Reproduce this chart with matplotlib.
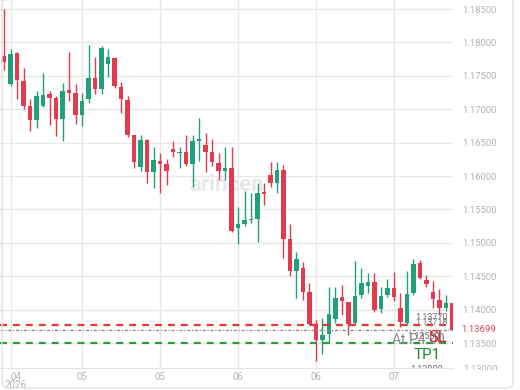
import numpy as np
import matplotlib
matplotlib.use('Agg')
import matplotlib.pyplot as plt
from matplotlib.patches import FancyBboxPatch
from matplotlib.transforms import Bbox

plt.rcParams['font.family'] = ['Roboto', 'DejaVu Sans']
plt.rcParams['lines.scale_dashes'] = False

# OHLC, una vela por fila de la imagen
opens = [1.17797, 1.17378, 1.17842, 1.17422, 1.17048, 1.16839, 1.17048, 1.17228, 1.17168, 1.16854,
         1.17288, 1.17243, 1.16913, 1.17153, 1.17467, 1.17303, 1.17677, 1.17767, 1.17333, 1.17138,
         1.16614, 1.16135, 1.16539, 1.16060, 1.16225, 1.16180, 1.16405, 1.16345, 1.16360, 1.16180,
         1.16524, 1.16464, 1.16360, 1.16195, 1.16075, 1.16120, 1.15222, 1.15282, 1.15342, 1.15357,
         1.15761, 1.16015, 1.15896, 1.16090, 1.15057, 1.14578, 1.14623, 1.14264, 1.13785, 1.13545,
         1.13635, 1.13860, 1.14189, 1.14114, 1.13800, 1.14219, 1.14354, 1.14414, 1.14009, 1.14219,
         1.14324, 1.14024, 1.13800, 1.14249, 1.14698, 1.14443, 1.14264, 1.14144, 1.14024, 1.14099]
highs = [1.18500, 1.17902, 1.17857, 1.17617, 1.17153, 1.17273, 1.17542, 1.17273, 1.17198, 1.17393,
         1.17857, 1.17378, 1.17243, 1.17961, 1.17782, 1.17946, 1.17902, 1.17782, 1.17408, 1.17198,
         1.16614, 1.16614, 1.16554, 1.16434, 1.16345, 1.16255, 1.16524, 1.16434, 1.16614, 1.16614,
         1.16869, 1.16644, 1.16554, 1.16345, 1.16434, 1.16434, 1.15536, 1.15776, 1.15746, 1.15896,
         1.15896, 1.16210, 1.16210, 1.16165, 1.15282, 1.14863, 1.14713, 1.14399, 1.13845, 1.13875,
         1.14339, 1.14339, 1.14369, 1.14114, 1.14728, 1.14623, 1.14548, 1.14548, 1.14339, 1.14458,
         1.14563, 1.14249, 1.14578, 1.14758, 1.14743, 1.14518, 1.14428, 1.14309, 1.14219, 1.14099]
lows = [1.17587, 1.17348, 1.17153, 1.17003, 1.16674, 1.16719, 1.17033, 1.16764, 1.16599, 1.16524,
        1.17123, 1.16779, 1.16749, 1.17093, 1.17228, 1.17228, 1.17482, 1.17318, 1.16943, 1.16584,
        1.16120, 1.16075, 1.15896, 1.15821, 1.15746, 1.15866, 1.16285, 1.16120, 1.16150, 1.15836,
        1.16225, 1.16060, 1.16150, 1.15940, 1.15940, 1.15162, 1.14982, 1.15252, 1.15297, 1.15012,
        1.15566, 1.15836, 1.15746, 1.14773, 1.14503, 1.14174, 1.14144, 1.13770, 1.13231, 1.13336,
        1.13515, 1.13800, 1.13919, 1.13620, 1.13770, 1.14174, 1.14249, 1.13964, 1.13949, 1.14189,
        1.14129, 1.13740, 1.13770, 1.14219, 1.14458, 1.14339, 1.14024, 1.13919, 1.13979, 1.13699]
closes = [1.17707, 1.17827, 1.17437, 1.17048, 1.16839, 1.17198, 1.17213, 1.17168, 1.16854, 1.17273,
          1.17243, 1.16913, 1.17123, 1.17467, 1.17303, 1.17916, 1.17782, 1.17348, 1.17153, 1.16614,
          1.16210, 1.16539, 1.16060, 1.16240, 1.16180, 1.16075, 1.16360, 1.16360, 1.16180, 1.16524,
          1.16554, 1.16360, 1.16210, 1.16075, 1.16120, 1.15177, 1.15282, 1.15342, 1.15357, 1.15746,
          1.15731, 1.15896, 1.16090, 1.15057, 1.14578, 1.14758, 1.14264, 1.13785, 1.13545, 1.13620,
          1.13934, 1.14174, 1.14129, 1.13785, 1.14204, 1.14399, 1.14414, 1.13994, 1.14204, 1.14324,
          1.14189, 1.13815, 1.14234, 1.14683, 1.14473, 1.14383, 1.14159, 1.14024, 1.14099, 1.13699]

# eje x
tick_pos = [1, 12, 24, 36, 48, 60]
tick_labels = ['04', '05', '05', '06', '06', '07']
year_label = '2026'

# eje y
y_ticks = [1.135, 1.14, 1.145, 1.15, 1.155, 1.16, 1.165, 1.17, 1.175, 1.18, 1.185]
y_min, y_max = 1.13126, 1.18635

# niveles
sl_level = 1.13770
last_price = 1.13699
tp_level = 1.13500

GREEN = '#22a07c'
RED = '#e23b4e'
GRID = '#e8e8e8'
LABEL = '#b3b3b3'

fig = plt.figure(figsize=(5.2, 3.9), dpi=100)
ax = fig.add_axes([0, 22 / 390, 453 / 520, 368 / 390])

o = np.array(opens)
h = np.array(highs)
l = np.array(lows)
c = np.array(closes)
x = np.arange(len(o))
up = c >= o
cols = np.where(up, GREEN, RED)

ax.vlines(x, l, h, colors=cols, linewidth=1, zorder=3)
body_low = np.minimum(o, c)
body_h = np.maximum(np.abs(c - o), 0.00015)
ax.bar(x, body_h, bottom=body_low, width=0.68, color=cols, linewidth=0, zorder=4)

ax.set_xlim(-0.62, 69.08)
ax.set_ylim(y_min, y_max)

ax.set_xticks(tick_pos)
ax.set_xticklabels([''] + tick_labels[1:])
ax.set_yticks(y_ticks)
ax.set_yticklabels(['%.5f' % v for v in y_ticks])
ax.yaxis.tick_right()
ax.tick_params(axis='y', length=0, pad=7, labelsize=6.8, labelcolor=LABEL)
ax.tick_params(axis='x', length=0, pad=3, labelsize=7, labelcolor=LABEL)
ax.grid(True, color=GRID, linewidth=1, zorder=0)
ax.set_axisbelow(True)
for s in ['top', 'right', 'left']:
    ax.spines[s].set_visible(False)
ax.spines['bottom'].set_color('#e3e3e3')

# primera etiqueta con el año
ax.annotate(tick_labels[0], xy=(tick_pos[0], 0), xycoords=('data', 'axes fraction'),
            xytext=(5, -4), textcoords='offset pixels', ha='center', va='top',
            fontsize=7, color=LABEL, annotation_clip=False)
ax.annotate(year_label, xy=(tick_pos[0], 0), xycoords=('data', 'axes fraction'),
            xytext=(5, -12), textcoords='offset pixels', ha='center', va='top',
            fontsize=7, color=LABEL, annotation_clip=False)

# lineas SL / precio / TP
ax.axhline(sl_level, color='#e53935', linewidth=1.6, linestyle=(0, (5, 4.3)), zorder=5)
ax.axhline(last_price, color='#8c8c8c', linewidth=1, linestyle=(0, (2.2, 1.3, 0.8, 1.3)), zorder=5)
ax.axhline(tp_level, color='#2e9a3a', linewidth=1.6, linestyle=(0, (5, 4.3)), zorder=5)

def tag(text, level, dx, dy, size, color):
    ax.annotate(text, xy=(1, level), xycoords=('axes fraction', 'data'),
                xytext=(dx, dy), textcoords='offset pixels', ha='right', va='center',
                fontsize=size, color=color, zorder=6)

tag('%.5f' % sl_level, sl_level, -5, 7, 6.5, '#6e6e6e')
tag('1.13718', sl_level, -5, 2, 6.5, '#6e6e6e')
tag('%.5f' % tp_level, tp_level, -13, 7, 6.5, '#6e6e6e')
tag('At P4.00', tp_level, -8, 3, 10, '#8a8a8a')
tag('SL', sl_level, -6, -13, 12, '#c62828')
tag('TP1', tp_level, -12, -12, 11, '#1b8a2f')
t13 = ax.annotate('1.13000', xy=(1, y_min), xycoords=('axes fraction', 'data'),
                  xytext=(-10, -2), textcoords='offset pixels', ha='right', va='center',
                  fontsize=6.5, color='#6e6e6e', annotation_clip=False)
t13.set_clip_on(True)
t13.set_clip_box(ax.bbox)

# precio actual en el eje
ax.annotate('%.5f' % last_price, xy=(1, last_price), xycoords=('axes fraction', 'data'),
            xytext=(8, 0), textcoords='offset pixels', ha='left', va='center',
            fontsize=6.8, color='#d9455f', annotation_clip=False)
t_low = fig.text(463 / 520, 1 - 369 / 390, '1.13000', ha='left', va='center',
                 fontsize=6.8, color=LABEL)
t_low.set_clip_on(True)
t_low.set_clip_box(Bbox.from_extents(0, 390 - 370, 520, 390))

# marca de agua
ax.text(0.5, 0.497, 'arincen', transform=ax.transAxes, ha='center', va='center',
        fontsize=16, fontweight='bold', color='#e8e8e8', zorder=1)

frame = FancyBboxPatch((2 / 520, 2 / 390), 511 / 520, 392 / 390,
                       boxstyle='round,pad=0,rounding_size=0.012',
                       transform=fig.transFigure, fill=False,
                       edgecolor='#e2e2e2', linewidth=1)
fig.add_artist(frame)

fig.savefig('out.png', dpi=100)
